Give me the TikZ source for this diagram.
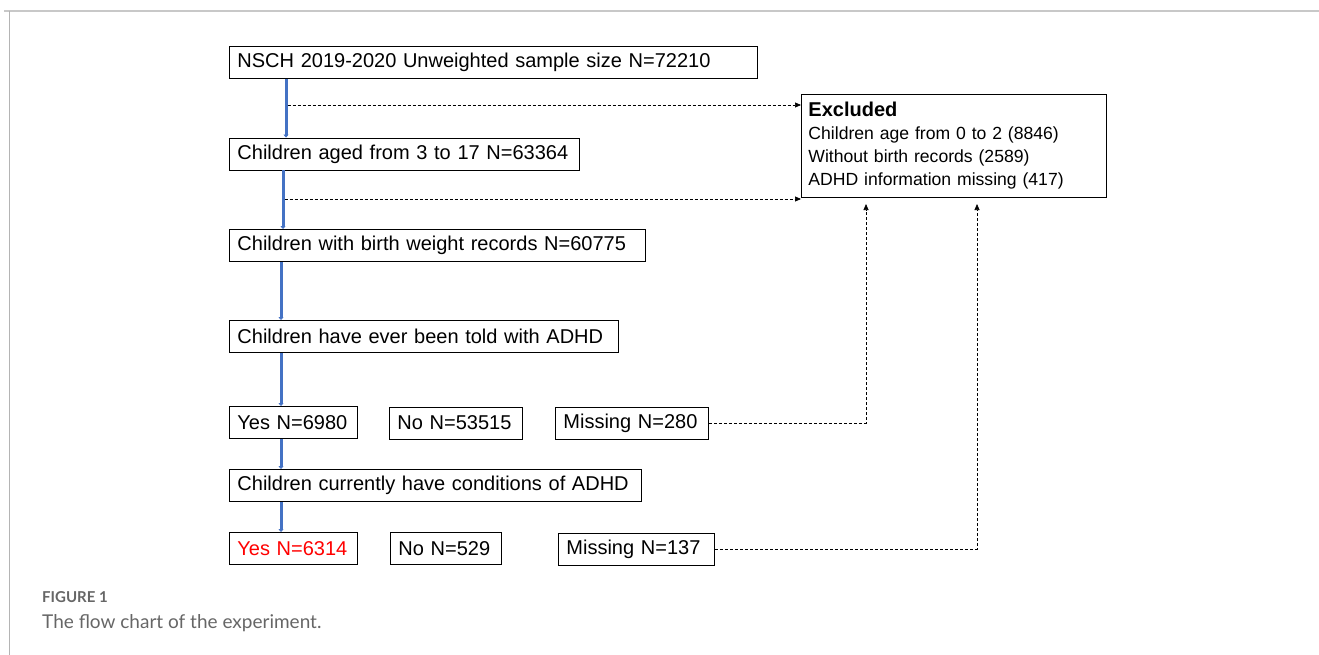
\documentclass[tikz,border=0pt]{standalone}
\usepackage{fontspec}
\setmainfont{Liberation Sans}
\newfontfamily\capfont{Lato}
\usetikzlibrary{arrows.meta}
\definecolor{flowblue}{HTML}{4472C4}
\definecolor{framegray}{HTML}{C8C8C8}
\definecolor{capgray}{HTML}{666666}
\begin{document}
\begin{tikzpicture}[x=1pt,y=-1pt,
  box/.style={draw, line width=0.9pt, inner xsep=8pt, inner ysep=0pt, minimum height=32pt, anchor=west, align=left, font=\fontsize{20}{24}\selectfont},
  flow/.style={draw=flowblue, line width=3pt, -{Triangle[length=3pt,width=5pt]}},
  dash arrow/.style={draw, line width=0.7pt, dash pattern=on 3pt off 2pt, -{Triangle[length=6pt,width=5pt]}}]
\useasboundingbox (0,0) rectangle (1319,655);
% frame
\draw[framegray, line width=1.2pt] (4,11) -- (1319,11);
\draw[framegray!90!black, line width=1pt] (9,11) -- (9,655);

\node[box, text width=512pt] (b1) at (229,62.5) {NSCH 2019-2020 Unweighted sample size N=72210};
\node[box, text width=334pt] (b2) at (229,154) {Children aged from 3 to 17 N=63364};
\node[box, text width=400pt] (b3) at (229,245.5) {Children with birth weight records N=60775};
\node[box, text width=373pt] (b4) at (229,336.5) {Children have ever been told with ADHD};
\node[box, text width=112pt] (y1) at (229,422.5) {Yes N=6980};
\node[box, text width=117pt] (n1) at (389,423) {No N=53515};
\node[box, text width=137pt] (m1) at (555,423) {Missing N=280};
\node[box, text width=396pt] (b5) at (229,485.5) {Children currently have conditions of ADHD};
\node[box, text width=112pt, text=red] (y2) at (229,548.5) {Yes N=6314};
\node[box, text width=95pt] (n2) at (390,548.5) {No N=529};
\node[box, text width=140pt] (m2) at (558,549) {Missing N=137};

\node[draw, line width=0.9pt, anchor=north west, minimum width=305pt, minimum height=103pt, inner xsep=7pt, inner ysep=7pt, align=left, text width=291pt, font=\fontsize{17.6}{23}\selectfont] (ex) at (801,94)
  {{\fontsize{20}{23}\selectfont\bfseries Excluded}\\
   Children\ age\ from\ 0\ to\ 2\ (8846)\\
   Without\ birth\ records\ (2589)\\
   ADHD\ information\ missing\ (417)};

% blue flow connectors
\coordinate (c1) at ([xshift=57pt]b1.south west);
\draw[flow] (c1) -- (c1 |- b2.north);
\coordinate (c2) at ([xshift=54pt]b2.south west);
\draw[flow] (c2) -- (c2 |- b3.north);
\coordinate (c3) at ([xshift=52pt]b3.south west);
\draw[flow] (c3) -- (c3 |- b4.north);
\coordinate (c4) at ([xshift=52pt]b4.south west);
\draw[flow] (c4) -- (c4 |- y1.north);
\coordinate (c5) at ([xshift=52pt]y1.south west);
\draw[flow] (c5) -- (c5 |- b5.north);
\coordinate (c6) at ([xshift=52pt]b5.south west);
\draw[flow] (c6) -- (c6 |- y2.north);

% dashed exclusions
\coordinate (d1) at (287.5,105);
\draw[dash arrow] (d1) -- (d1 -| ex.west);
\coordinate (d2) at (284.5,199);
\draw[dash arrow] (d2) -- (d2 -| ex.west);
\coordinate (u1) at (866,204);
\draw[dash arrow] (m1.east) -| (u1);
\coordinate (u2) at (977,204);
\draw[dash arrow] (m2.east) -| (u2);

% caption
\node[anchor=west, inner sep=0pt, text=capgray, font=\capfont\bfseries\fontsize{15}{18}\selectfont] (fig) at (42,597) {FIGURE 1};
\node[anchor=west, inner sep=0pt, text=capgray, font=\capfont\fontsize{19}{22}\selectfont] (cap) at (42,623) {The flow chart of the experiment.};
\end{tikzpicture}
\end{document}
